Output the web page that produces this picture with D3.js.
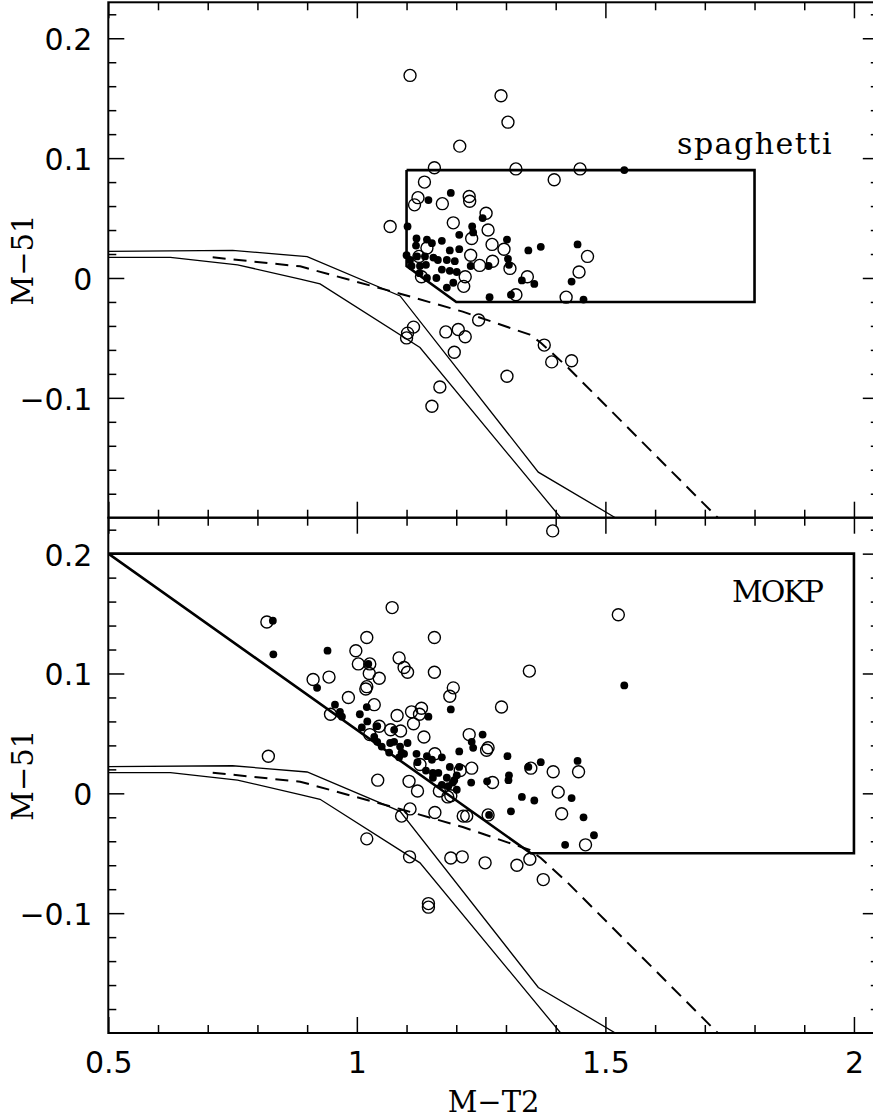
<!DOCTYPE html>
<html><head><meta charset="utf-8">
<script src="https://cdn.jsdelivr.net/npm/d3@7"></script>
<style>body{margin:0;background:#fff}svg{display:block}</style>
</head><body>
<svg id="chart" width="873" height="1120"></svg>
<script>
// ---------- tick definitions ----------
const xTickValues = [0.5, 1, 1.5, 2];
const xTickLabels = ["0.5", "1", "1.5", "2"];
const yTickValues = [0.2, 0.1, 0, -0.1];
const yTickLabels = ["0.2", "0.1", "0", "\u22120.1"];
const xMinorTicks = [0.6,0.7,0.8,0.9,1.1,1.2,1.3,1.4,1.6,1.7,1.8,1.9];
const yMinorTicks = [-0.18,-0.16,-0.14,-0.12,-0.08,-0.06,-0.04,-0.02,0.02,0.04,0.06,0.08,0.12,0.14,0.16,0.18,0.22];
const xTitle = "M\u2212T2";
const yTitle = "M\u221251";
const panelNames = ["spaghetti", "MOKP"];

// ---------- model tracks (same in both panels) ----------
const trackAX = [0.5, 0.75, 0.9, 1.087, 1.365, 1.52];
const trackAY = [0.0222, 0.023, 0.0178, -0.015, -0.162, -0.2];
const trackBX = [0.5, 0.625, 0.76, 0.886, 0.926, 1.127, 1.41];
const trackBY = [0.0172, 0.0172, 0.011, -0.001, -0.005, -0.058, -0.2];
const dashX = [0.71, 0.886, 1.087, 1.213, 1.348, 1.37, 1.422, 1.726];
const dashY = [0.0172, 0.0097, -0.0131, -0.0281, -0.0473, -0.054, -0.0737, -0.2];

// ---------- selection boxes ----------
const spagBoxX = [1.1, 1.8, 1.8, 1.2, 1.1, 1.1];
const spagBoxY = [0.09, 0.09, -0.02, -0.02, 0.01, 0.09];
const mokpBoxX = [0.5, 2.0, 2.0, 1.35, 0.5];
const mokpBoxY = [0.2, 0.2, -0.05, -0.05, 0.2];

// ---------- top panel (spaghetti) ----------
const topOpenX = [1.107,1.290,1.304,1.207,1.156,1.320,1.449,1.397,1.136,1.123,1.116,1.172,1.226,1.227,1.260,1.194,1.067,1.264,1.231,1.272,1.296,1.141,1.229,1.464,1.247,1.273,1.308,1.447,1.125,1.218,1.215,1.343,1.320,1.421,1.130,1.245,1.114,1.102,1.100,1.179,1.204,1.218,1.196,1.377,1.392,1.432,1.302,1.167,1.151];
const topOpenY = [0.169,0.152,0.130,0.110,0.092,0.091,0.091,0.082,0.080,0.067,0.061,0.062,0.068,0.064,0.054,0.046,0.043,0.040,0.033,0.028,0.024,0.025,0.019,0.018,0.0105,0.014,0.008,0.005,0.018,0.001,-0.007,0.001,-0.014,-0.016,0.001,-0.035,-0.041,-0.046,-0.050,-0.045,-0.043,-0.049,-0.062,-0.056,-0.070,-0.069,-0.082,-0.091,-0.107];
const topFilledX = [1.189,1.144,1.102,1.232,1.234,1.253,1.206,1.120,1.141,1.151,1.171,1.119,1.302,1.345,1.370,1.444,1.187,1.206,1.100,1.107,1.121,1.137,1.154,1.163,1.181,1.197,1.304,1.306,1.229,1.265,1.110,1.127,1.139,1.171,1.187,1.201,1.126,1.141,1.160,1.194,1.181,1.332,1.357,1.432,1.267,1.310,1.456,1.538];
const topFilledY = [0.071,0.065,0.043,0.043,0.038,0.050,0.036,0.033,0.032,0.029,0.031,0.027,0.032,0.023,0.026,0.028,0.023,0.024,0.019,0.015,0.018,0.018,0.017,0.015,0.015,0.014,0.016,0.011,0.010,0.010,0.010,0.010,0.011,0.007,0.006,0.005,0.004,0.000,0.000,-0.004,-0.008,-0.002,-0.005,-0.003,-0.016,-0.014,-0.018,0.090];

// ---------- bottom panel (MOKP) ----------
const botOpenX = [0.819,0.822,1.071,1.020,1.156,0.998,1.003,1.026,1.085,1.095,1.102,1.156,1.025,1.045,0.912,0.944,1.347,1.020,1.018,1.194,1.187,0.983,1.035,1.130,1.110,1.126,1.081,0.947,1.291,1.114,1.045,1.068,1.088,1.026,1.135,1.226,1.264,1.261,1.157,1.127,1.208,1.231,1.350,1.395,1.446,1.273,1.042,1.105,1.122,1.166,1.183,1.189,1.405,1.412,1.157,1.107,1.090,1.214,1.221,1.264,1.020,1.460,1.106,1.189,1.212,1.258,1.322,1.348,1.375,1.144,1.144,1.526,1.394];
const botOpenY = [0.143,0.031,0.155,0.130,0.130,0.119,0.108,0.108,0.113,0.105,0.101,0.101,0.100,0.096,0.095,0.097,0.102,0.089,0.087,0.088,0.081,0.080,0.074,0.071,0.068,0.066,0.065,0.066,0.072,0.058,0.056,0.053,0.052,0.049,0.047,0.049,0.038,0.036,0.033,0.024,0.019,0.021,0.021,0.018,0.018,0.009,0.011,0.010,0.002,0.002,-0.003,-0.002,0.001,-0.017,-0.016,-0.013,-0.019,-0.019,-0.019,-0.018,-0.038,-0.043,-0.053,-0.054,-0.053,-0.058,-0.060,-0.055,-0.072,-0.092,-0.095,0.149,0.219];
const botFilledX = [0.831,0.832,0.941,1.023,0.920,0.956,0.966,0.970,1.020,1.006,1.189,1.144,1.021,1.010,1.041,1.075,1.035,1.041,1.050,1.067,1.075,1.087,1.102,1.065,1.090,1.085,1.095,1.120,1.122,1.141,1.151,1.171,1.139,1.153,1.153,1.164,1.181,1.187,1.206,1.206,1.196,1.201,1.171,1.184,1.201,1.193,1.230,1.253,1.231,1.234,1.262,1.303,1.306,1.305,1.345,1.370,1.444,1.332,1.357,1.432,1.266,1.310,1.456,1.419,1.477,1.538];
const botFilledY = [0.144,0.116,0.119,0.108,0.088,0.074,0.068,0.064,0.072,0.066,0.070,0.064,0.060,0.055,0.056,0.053,0.047,0.043,0.039,0.042,0.043,0.039,0.042,0.034,0.034,0.030,0.033,0.033,0.026,0.031,0.028,0.030,0.019,0.017,0.013,0.017,0.013,0.022,0.022,0.035,0.011,0.015,0.007,0.006,0.003,0.009,0.009,0.049,0.043,0.038,0.010,0.031,0.015,0.011,0.022,0.026,0.027,-0.003,-0.006,-0.004,-0.018,-0.015,-0.020,-0.043,-0.035,0.090];

// ---------- layout ----------
const svg = d3.select("#chart");
const frameLeft = 108.3, frameRight = 878.8;
const x = d3.scaleLinear().domain([0.5, 2.05]).range([frameLeft, frameRight]);
const yDomain = [-0.2, 0.23];
const panels = [
  {top: 2.3, bottom: 517.7, name: panelNames[0], nameX: 677, nameY: 154, nameSpacing: 1.5,
   openX: topOpenX, openY: topOpenY, filledX: topFilledX, filledY: topFilledY,
   boxX: spagBoxX, boxY: spagBoxY, bottomLabels: false, topTicks: true},
  {top: 517.7, bottom: 1033, name: panelNames[1], nameX: 732, nameY: 602, nameSpacing: -2,
   openX: botOpenX, openY: botOpenY, filledX: botFilledX, filledY: botFilledY,
   boxX: mokpBoxX, boxY: mokpBoxY, bottomLabels: true, topTicks: true}
];
const zip = (a, b) => a.map((v, i) => [v, b[i]]);
const NUM_FONT = "'DejaVu Sans', sans-serif";
const SERIF = "'DejaVu Serif', serif";

panels.forEach((p, pi) => {
  const y = d3.scaleLinear().domain(yDomain).range([p.bottom, p.top]);
  const g = svg.append("g");
  const clipId = "clip" + pi;
  svg.append("clipPath").attr("id", clipId).append("rect")
    .attr("x", frameLeft).attr("y", p.top).attr("width", frameRight - frameLeft).attr("height", p.bottom - p.top);
  const plot = g.append("g").attr("clip-path", `url(#${clipId})`);
  const line = d3.line().x(d => x(d[0])).y(d => y(d[1]));

  // model tracks
  plot.append("path").datum(zip(trackAX, trackAY)).attr("d", line)
    .attr("fill", "none").attr("stroke", "#000").attr("stroke-width", 1.3);
  plot.append("path").datum(zip(trackBX, trackBY)).attr("d", line)
    .attr("fill", "none").attr("stroke", "#000").attr("stroke-width", 1.3);
  plot.append("path").datum(zip(dashX, dashY)).attr("d", line)
    .attr("fill", "none").attr("stroke", "#000").attr("stroke-width", 2)
    .attr("stroke-dasharray", "13,8");

  // selection box
  plot.append("path").datum(zip(p.boxX, p.boxY)).attr("d", line)
    .attr("fill", "none").attr("stroke", "#000").attr("stroke-width", 2.6)
    .attr("stroke-linejoin", "miter");

  // points
  plot.selectAll("circle.open").data(zip(p.openX, p.openY)).enter().append("circle")
    .attr("class", "open").attr("cx", d => x(d[0])).attr("cy", d => y(d[1])).attr("r", 6)
    .attr("fill", "none").attr("stroke", "#000").attr("stroke-width", 1.4);
  plot.selectAll("circle.filled").data(zip(p.filledX, p.filledY)).enter().append("circle")
    .attr("class", "filled").attr("cx", d => x(d[0])).attr("cy", d => y(d[1])).attr("r", 3.9)
    .attr("fill", "#000");

  // panel name
  g.append("text").attr("x", p.nameX).attr("y", p.nameY).text(p.name)
    .attr("font-family", SERIF).attr("font-size", 30).attr("letter-spacing", p.nameSpacing)
    .attr("fill", "#000");

  // axes
  const styleAxis = sel => {
    sel.select(".domain").remove();
    sel.selectAll(".tick line").attr("stroke", "#000").attr("stroke-width", 1.5);
  };
  // left major
  const leftAxis = g.append("g").attr("transform", `translate(${frameLeft},0)`)
    .call(d3.axisLeft(y).tickValues(yTickValues).tickSizeInner(-16).tickSizeOuter(0).tickPadding(16)
      .tickFormat((d, i) => yTickLabels[i]));
  styleAxis(leftAxis);
  leftAxis.selectAll("text").attr("font-family", NUM_FONT).attr("font-size", 30).attr("dy", "0.38em").attr("fill", "#000");
  // left minor
  styleAxis(g.append("g").attr("transform", `translate(${frameLeft},0)`)
    .call(d3.axisLeft(y).tickValues(yMinorTicks).tickSizeInner(-8).tickSizeOuter(0).tickFormat("")));
  // right major/minor
  styleAxis(g.append("g").attr("transform", `translate(${frameRight},0)`)
    .call(d3.axisRight(y).tickValues(yTickValues).tickSizeInner(-16).tickSizeOuter(0).tickFormat("")));
  styleAxis(g.append("g").attr("transform", `translate(${frameRight},0)`)
    .call(d3.axisRight(y).tickValues(yMinorTicks).tickSizeInner(-8).tickSizeOuter(0).tickFormat("")));
  // top
  styleAxis(g.append("g").attr("transform", `translate(0,${p.top})`)
    .call(d3.axisTop(x).tickValues(xTickValues).tickSizeInner(-16).tickSizeOuter(0).tickFormat("")));
  styleAxis(g.append("g").attr("transform", `translate(0,${p.top})`)
    .call(d3.axisTop(x).tickValues(xMinorTicks).tickSizeInner(-8).tickSizeOuter(0).tickFormat("")));
  // bottom
  const bottomAxis = g.append("g").attr("transform", `translate(0,${p.bottom})`)
    .call(d3.axisBottom(x).tickValues(xTickValues).tickSizeInner(-16).tickSizeOuter(0).tickPadding(19)
      .tickFormat((d, i) => p.bottomLabels ? xTickLabels[i] : ""));
  styleAxis(bottomAxis);
  bottomAxis.selectAll("text").attr("font-family", NUM_FONT).attr("font-size", 30).attr("fill", "#000");
  styleAxis(g.append("g").attr("transform", `translate(0,${p.bottom})`)
    .call(d3.axisBottom(x).tickValues(xMinorTicks).tickSizeInner(-8).tickSizeOuter(0).tickFormat("")));

  // frame
  g.append("rect").attr("x", frameLeft).attr("y", p.top).attr("width", frameRight - frameLeft)
    .attr("height", p.bottom - p.top).attr("fill", "none").attr("stroke", "#000").attr("stroke-width", 2);

  // y title
  g.append("text").attr("transform", `translate(33,${(p.top + p.bottom) / 2}) rotate(-90)`)
    .attr("text-anchor", "middle").attr("font-family", SERIF).attr("font-size", 29)
    .attr("fill", "#000").text(yTitle);
});

// x title
svg.append("text").attr("x", (frameLeft + frameRight) / 2).attr("y", 1112)
  .attr("text-anchor", "middle").attr("font-family", SERIF).attr("font-size", 29)
  .attr("fill", "#000").text(xTitle);
</script>
</body></html>
